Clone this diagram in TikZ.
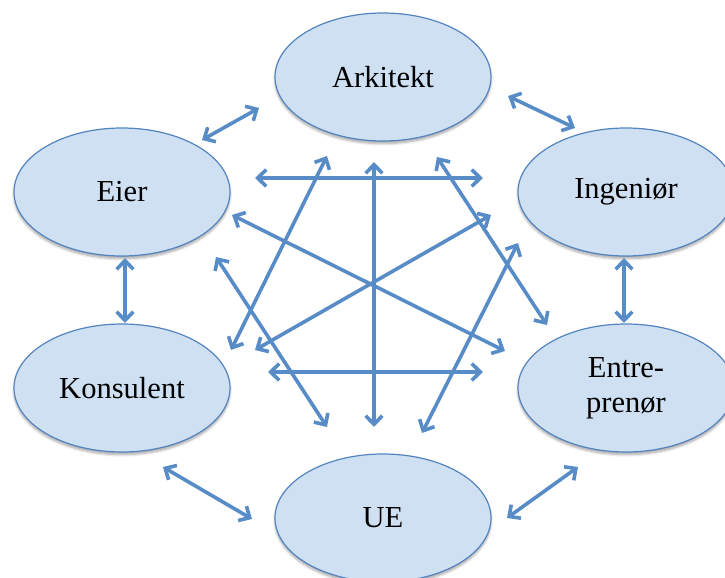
\documentclass[tikz,border=0pt]{standalone}
\usepackage{fontspec}
\setmainfont{Liberation Serif}
\usetikzlibrary{shapes.geometric,arrows.meta,shadows.blur}
\definecolor{roleFill}{RGB}{207,224,242}
\definecolor{roleLine}{RGB}{84,132,192}
\definecolor{linkBlue}{RGB}{88,140,199}
\tikzset{
  role/.style={ellipse, draw=roleLine, line width=0.9pt, fill=roleFill,
    minimum width=162pt, minimum height=96pt, inner sep=0pt, align=center,
    font=\fontsize{22.9}{26}\selectfont,
    blur shadow={shadow xshift=0pt, shadow yshift=-2pt, shadow blur steps=6, shadow opacity=35}},
  link/.style={draw=linkBlue, line width=2.7pt,
    {Straight Barb[length=6.5pt, width=12.5pt, line width=2.7pt]}-{Straight Barb[length=6.5pt, width=12.5pt, line width=2.7pt]}}
}
\begin{document}
\begin{tikzpicture}[x=0.75pt, y=-0.75pt]
  \useasboundingbox (0,0) rectangle (725,578);

  % the six parties
  \node[role] (ark) at (383,77)  {Arkitekt};
  \node[role] (eie) at (122,192) {Eier};
  \node[role] (ing) at (626,192) {Ingeniør};
  \node[role] (kon) at (122,388) {Konsulent};
  \node[role] (ent) at (626,388) {Entre-\\prenør};
  \node[role] (ue)  at (383,518) {UE};

  % end points of the links around the ring
  \coordinate (eA) at (202,140); \coordinate (aE) at (259,108);
  \coordinate (aI) at (508,96);  \coordinate (iA) at (575,128);
  \coordinate (eK) at (125,258); \coordinate (kE) at (125,323);
  \coordinate (iN) at (624,258); \coordinate (nI) at (624,323);
  \coordinate (kU) at (163,467); \coordinate (uK) at (252,519);
  \coordinate (nU) at (578,467); \coordinate (uN) at (507,518);

  % end points of the links across the middle
  \coordinate (eI) at (255,178); \coordinate (iE) at (483,178);
  \coordinate (kN) at (268,372); \coordinate (nK) at (483,372);
  \coordinate (aU) at (374,162); \coordinate (uA) at (374,427);
  \coordinate (eN) at (232,215); \coordinate (nE) at (505,351);
  \coordinate (kI) at (255,350); \coordinate (iK) at (491,215);
  \coordinate (aK) at (327,156); \coordinate (kA) at (231,350);
  \coordinate (eU) at (216,257); \coordinate (uE) at (327,427);
  \coordinate (aN) at (437,157); \coordinate (nA) at (547,325);
  \coordinate (iU) at (518,243); \coordinate (uI) at (422,433);

  % ring links
  \draw[link] (eA) -- (aE);
  \draw[link] (aI) -- (iA);
  \draw[link] (eK) -- (kE);
  \draw[link] (iN) -- (nI);
  \draw[link] (kU) -- (uK);
  \draw[link] (nU) -- (uN);

  % cross links
  \draw[link] (eI) -- (iE);
  \draw[link] (kN) -- (nK);
  \draw[link] (aU) -- (uA);
  \draw[link] (eN) -- (nE);
  \draw[link] (kI) -- (iK);
  \draw[link] (aK) -- (kA);
  \draw[link] (eU) -- (uE);
  \draw[link] (aN) -- (nA);
  \draw[link] (iU) -- (uI);
\end{tikzpicture}
\end{document}
